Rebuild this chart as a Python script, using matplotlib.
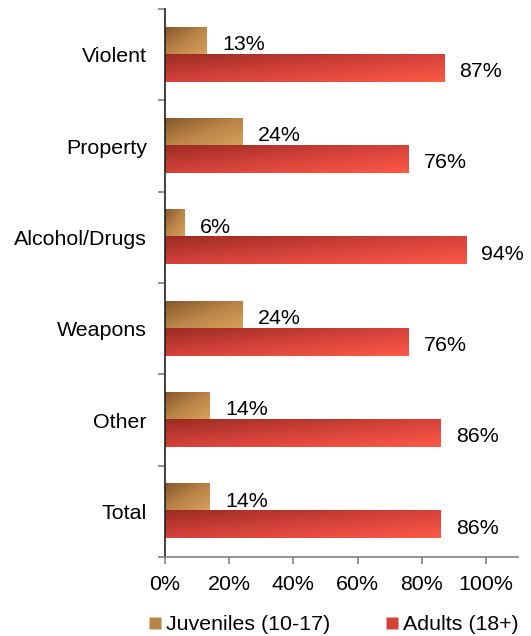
import numpy as np
import matplotlib
matplotlib.use("Agg")
import matplotlib.pyplot as plt
from matplotlib.colors import LinearSegmentedColormap
from matplotlib.lines import Line2D

categories = ["Violent", "Property", "Alcohol/Drugs", "Weapons", "Other", "Total"]
juveniles = [13, 24, 6, 24, 14, 14]
adults = [87, 76, 94, 76, 86, 86]
series_names = ["Juveniles (10-17)", "Adults (18+)"]
xticks = [0, 20, 40, 60, 80, 100]

plt.rcParams['font.family'] = ['Liberation Sans', 'DejaVu Sans']
FS = 15.4

fig = plt.figure(figsize=(5.31, 6.36), dpi=100)
ax = fig.add_axes([165/531, (636-557)/636, (518-165)/531, (557-9)/636])

cmap_j = LinearSegmentedColormap.from_list("j", ["#86582c", "#b98447", "#dba15c"])
cmap_a = LinearSegmentedColormap.from_list("a", ["#9c2c22", "#d4423a", "#ff5846"])

h = 0.296
off = 0.148
uu, vv = np.meshgrid(np.linspace(0, 1, 100), np.linspace(0, 1, 30))
grad = 0.5 * (uu + vv)

def gbar(y, w, cmap):
    top = y - h / 2
    bottom = y + h / 2
    ax.imshow(grad, cmap=cmap, extent=(0, w, bottom, top), aspect='auto',
              origin='upper', interpolation='bilinear', zorder=2)

for i, (j, a) in enumerate(zip(juveniles, adults)):
    gbar(i - off, j, cmap_j)
    gbar(i + off, a, cmap_a)
    ax.text(j + 4.8, i - off + 0.035, f"{j}%", va='center', ha='left', fontsize=FS)
    ax.text(a + 4.6, i + off + 0.035, f"{a}%", va='center', ha='left', fontsize=FS)

ax.set_xlim(0, 110)
ax.set_ylim(5.5, -0.5)

ax.set_yticks(range(len(categories)))
ax.set_yticklabels(categories, fontsize=FS)
ax.tick_params(axis='y', which='major', length=0, pad=13)
ax.set_yticks(np.arange(-0.5, 6.0, 1.0), minor=True)
ax.tick_params(axis='y', which='minor', length=5, color='#808080', width=1.2, direction='out')

ax.set_xticks(xticks)
ax.set_xticklabels([f"{t}%" for t in xticks], fontsize=FS)
ax.tick_params(axis='x', which='major', length=5, color='#808080', width=1.2, pad=8)

for s in ['top', 'right']:
    ax.spines[s].set_visible(False)
ax.spines['left'].set_color('#202020')
ax.spines['bottom'].set_color('#808080')
ax.spines['left'].set_linewidth(1.2)
ax.spines['bottom'].set_linewidth(1.2)

handles = [Line2D([], [], marker='s', linestyle='none', markersize=8.5,
                  markerfacecolor='#b98447', markeredgecolor='none'),
           Line2D([], [], marker='s', linestyle='none', markersize=8.5,
                  markerfacecolor='#d4423a', markeredgecolor='none')]
fig.legend(handles, series_names, loc='center', bbox_to_anchor=(0.628, 0.018),
           ncol=2, frameon=False, fontsize=FS, handlelength=0.6,
           handletextpad=0.2, columnspacing=2.6)

fig.savefig("out.png", dpi=100)
